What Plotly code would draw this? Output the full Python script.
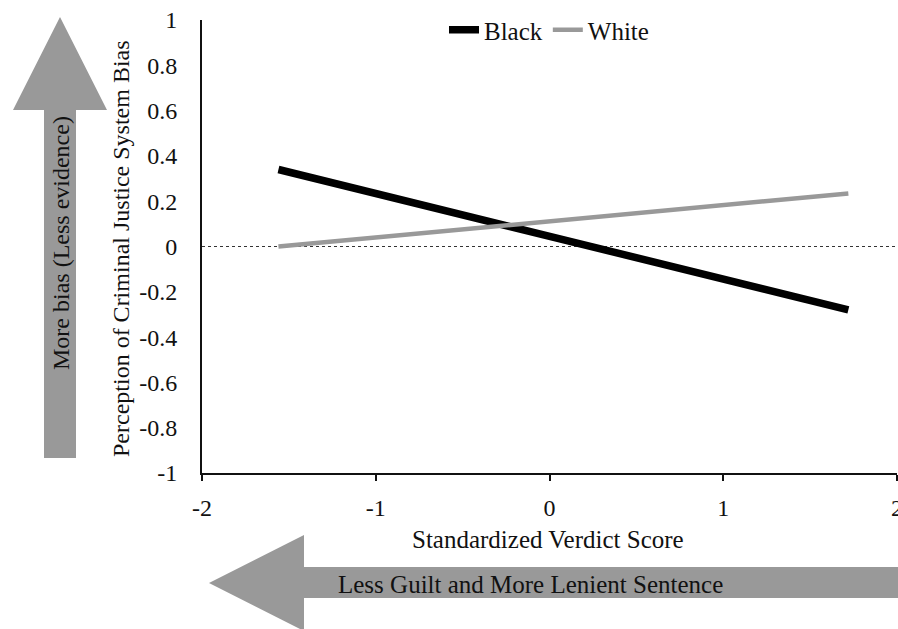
import plotly.graph_objects as go

# Data
x_range = [-1.56, 1.72]
black_y = [0.34, -0.28]
white_y = [0.0, 0.234]
y_ticks = [1, 0.8, 0.6, 0.4, 0.2, 0, -0.2, -0.4, -0.6, -0.8, -1]
y_tick_labels = ["1", "0.8", "0.6", "0.4", "0.2", "0", "-0.2", "-0.4", "-0.6", "-0.8", "-1"]
x_ticks = [-2, -1, 0, 1, 2]
x_tick_labels = ["-2", "-1", "0", "1", "2"]

W, H = 898, 629
PL, PR, PT, PB = 202, 897, 20, 473   # plot area in page pixels
L, T = PL, PT
R, B = W - PR, H - PB
PW, PH = PR - PL, PB - PT

def px(x):
    return (x - PL) / PW

def py(y):
    return (PB - y) / PH

FONT = "Liberation Serif, Times New Roman, serif"
GRAY = "#999999"
TXT = "#111111"

fig = go.Figure()
fig.add_trace(go.Scatter(x=x_range, y=black_y, mode="lines", name="Black",
                         line=dict(color="black", width=7.5)))
fig.add_trace(go.Scatter(x=x_range, y=white_y, mode="lines", name="White",
                         line=dict(color=GRAY, width=4.5)))

shapes = []
shapes.append(dict(type="line", xref="x", yref="y", x0=-2, x1=2, y0=0, y1=0,
                   line=dict(color="#333333", width=1.2, dash="dot"), layer="below"))
v_pts = [(60, 17), (107, 110), (76, 110), (76, 458), (44, 458), (44, 110), (13, 110)]
path = "M " + " L ".join(f"{px(a):.5f},{py(b):.5f}" for a, b in v_pts) + " Z"
shapes.append(dict(type="path", xref="paper", yref="paper", path=path,
                   fillcolor=GRAY, line=dict(width=0)))
h_pts = [(209, 583), (304, 535), (304, 567), (900, 567), (900, 598), (304, 598), (304, 631)]
path = "M " + " L ".join(f"{px(a):.5f},{py(b):.5f}" for a, b in h_pts) + " Z"
shapes.append(dict(type="path", xref="paper", yref="paper", path=path,
                   fillcolor=GRAY, line=dict(width=0)))

annotations = [
    dict(text="More bias (Less evidence)", xref="paper", yref="paper",
         x=px(61), y=py(243), textangle=-90, showarrow=False,
         font=dict(family=FONT, size=24, color=TXT), xanchor="center", yanchor="middle"),
    dict(text="Less Guilt and More Lenient Sentence", xref="paper", yref="paper",
         x=px(530), y=py(584), showarrow=False,
         font=dict(family=FONT, size=25, color=TXT), xanchor="center", yanchor="middle"),
    dict(text="Perception of Criminal Justice System Bias", xref="paper", yref="paper",
         x=px(121), y=py(249), textangle=-90, showarrow=False,
         font=dict(family=FONT, size=24, color=TXT), xanchor="center", yanchor="middle"),
    dict(text="Standardized Verdict Score", xref="paper", yref="paper",
         x=px(548), y=py(539), showarrow=False,
         font=dict(family=FONT, size=25, color=TXT), xanchor="center", yanchor="middle"),
]

fig.update_layout(
    width=W, height=H,
    margin=dict(l=L, r=R, t=T, b=B, pad=0, autoexpand=False),
    paper_bgcolor="white", plot_bgcolor="white",
    font=dict(family=FONT, size=24, color=TXT),
    showlegend=True,
    legend=dict(orientation="h", x=px(549), xanchor="center", y=py(30), yanchor="middle",
                font=dict(family=FONT, size=25, color=TXT),
                bgcolor="rgba(0,0,0,0)", itemwidth=30, tracegroupgap=0),
    shapes=shapes,
    annotations=annotations,
    xaxis=dict(range=[-2, 2], tickvals=x_ticks, ticktext=x_tick_labels,
               showgrid=False, zeroline=False, showline=True, linecolor=TXT, linewidth=2,
               ticks="outside", ticklen=6, tickwidth=2, tickcolor=TXT,
               ticklabelstandoff=6, ticklabeloverflow="allow", automargin=False,
               tickfont=dict(family=FONT, size=24, color=TXT)),
    yaxis=dict(range=[-1, 1], tickvals=y_ticks, ticktext=y_tick_labels,
               showgrid=False, zeroline=False, showline=True, linecolor=TXT, linewidth=2,
               ticks="", ticklabelstandoff=18, automargin=False,
               tickfont=dict(family=FONT, size=24, color=TXT)),
)

fig.write_html("out.html", config={"displayModeBar": False},
               post_script="document.body.style.margin='0';document.body.style.overflow='hidden';")
